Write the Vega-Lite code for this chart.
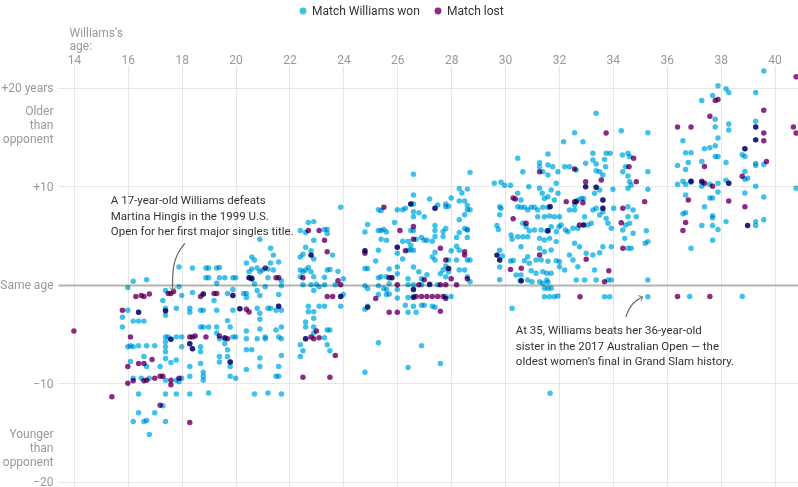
{
"$schema":"https://vega.github.io/schema/vega-lite/v6.json",
"width":740,"height":422,
"autosize":{"type":"none"},
"padding":{"left":58,"top":65,"right":0,"bottom":0},
"config":{"view":{"stroke":null},"font":"Roboto"},
"encoding":{
 "x":{"field":"age","type":"quantitative","scale":{"domain":[13.41,40.87],"nice":false,"zero":false},
  "axis":{"orient":"top","values":[14,16,18,20,22,24,26,28,30,32,34,36,38,40],"domain":false,"ticks":false,"labelColor":"#999","labelFontSize":12,"labelPadding":-1,"gridColor":"#e6e6e6","title":["Williams's","age:"],"titleColor":"#999","titleFontWeight":"normal","titleFontSize":12,"titleAnchor":"start","titleAlign":"left","titleX":11,"titleY":-33,"titleBaseline":"middle","titleLineHeight":13}},
 "y":{"field":"diff","type":"quantitative","scale":{"domain":[-20.54,22.3],"nice":false,"zero":false},
  "axis":{"orient":"left","values":[20,17.7,10,0,-10,-15.06,-20],"domain":false,"ticks":false,"labelColor":"#999","labelFontSize":12,"labelPadding":5,"labelOverlap":false,"labelBound":false,"labelFlush":false,"labelLineHeight":14,"labelBaseline":"middle","title":null,
   "labelExpr":"datum.value==20?'+20 years':datum.value==10?'+10':datum.value==0?'Same age':datum.value==-10?'−10':datum.value==-20?'−20':datum.value>0?['Older','than','opponent']:['Younger','than','opponent']",
   "gridColor":{"condition":{"test":"datum.value===0","value":"#b3b3b3"},"value":"#e6e6e6"},
   "gridOpacity":{"condition":{"test":"abs(datum.value)>15 && abs(datum.value)<18","value":0},"value":1},
   "gridWidth":{"condition":{"test":"datum.value===0","value":2},"value":1}}}
},
"layer":[
{"data":{"values":[
{"age":14.0,"diff":-4.7,"result":"lost"},{"age":15.41,"diff":-11.37,"result":"lost"},
{"age":15.8,"diff":-3.3,"result":"won"},{"age":15.8,"diff":-4.3,"result":"won"},{"age":16.0,"diff":-0.3,"result":"won"},{"age":16.2,"diff":0.35,"result":"won"},{"age":16.0,"diff":-2.6,"result":"won"},{"age":16.0,"diff":-6.3,"result":"won"},{"age":16.1,"diff":-6.2,"result":"won"},{"age":16.2,"diff":-6.3,"result":"won"},{"age":16.1,"diff":-7.8,"result":"won"},{"age":16.2,"diff":-9.5,"result":"won"},{"age":16.4,"diff":-2.8,"result":"won"},{"age":16.2,"diff":-3.7,"result":"won"},{"age":16.4,"diff":-3.7,"result":"won"},{"age":16.6,"diff":-3.7,"result":"won"},{"age":16.7,"diff":0.5,"result":"won"},{"age":16.4,"diff":-6.2,"result":"won"},{"age":16.7,"diff":-6.2,"result":"won"},{"age":17.0,"diff":-6.2,"result":"won"},{"age":16.6,"diff":-7.3,"result":"won"},{"age":16.7,"diff":-8.3,"result":"won"},{"age":16.5,"diff":-9.5,"result":"won"},{"age":16.8,"diff":-9.5,"result":"won"},{"age":16.4,"diff":-11.1,"result":"won"},{"age":16.4,"diff":-13.0,"result":"won"},{"age":16.2,"diff":-13.9,"result":"won"},{"age":16.6,"diff":-13.9,"result":"won"},{"age":16.7,"diff":-13.8,"result":"won"},{"age":16.8,"diff":-15.2,"result":"won"},{"age":17.0,"diff":-13.0,"result":"won"},{"age":17.3,"diff":-12.3,"result":"won"},{"age":17.2,"diff":-8.3,"result":"won"},{"age":17.4,"diff":-11.1,"result":"won"},{"age":17.4,"diff":-13.9,"result":"won"},
{"age":15.8,"diff":-2.6,"result":"lost"},{"age":16.1,"diff":-5.3,"result":"lost"},{"age":16.0,"diff":-8.3,"result":"lost"},{"age":16.0,"diff":-10.0,"result":"lost"},{"age":16.2,"diff":-9.75,"result":"lost"},{"age":16.3,"diff":-1.2,"result":"lost"},{"age":16.5,"diff":-1.1,"result":"lost"},{"age":16.6,"diff":-1.2,"result":"lost"},{"age":16.8,"diff":-0.95,"result":"lost"},{"age":16.4,"diff":-8.0,"result":"lost"},{"age":16.6,"diff":-8.0,"result":"lost"},{"age":16.9,"diff":-7.6,"result":"lost"},{"age":16.6,"diff":-9.75,"result":"lost"},{"age":16.7,"diff":-9.7,"result":"lost"},{"age":17.0,"diff":-9.5,"result":"lost"},{"age":17.2,"diff":-12.25,"result":"lost"},{"age":17.2,"diff":-9.3,"result":"lost"},{"age":16.4,"diff":-2.8,"result":"lost"},
{"age":17.3,"diff":-1.6,"result":"won"},{"age":17.4,"diff":-0.6,"result":"won"},{"age":17.4,"diff":-2.4,"result":"won"},{"age":17.4,"diff":-3.1,"result":"won"},{"age":17.4,"diff":-5.3,"result":"won"},{"age":17.4,"diff":-5.8,"result":"won"},{"age":17.4,"diff":-6.3,"result":"won"},{"age":17.4,"diff":-6.8,"result":"won"},{"age":17.4,"diff":-7.5,"result":"won"},{"age":17.5,"diff":-5.3,"result":"won"},{"age":17.8,"diff":-5.3,"result":"won"},{"age":17.6,"diff":-7.9,"result":"won"},{"age":17.8,"diff":-7.65,"result":"won"},{"age":17.4,"diff":-9.7,"result":"won"},{"age":17.8,"diff":-9.7,"result":"won"},{"age":17.9,"diff":-9.85,"result":"won"},{"age":17.8,"diff":-11.1,"result":"won"},{"age":17.8,"diff":-2.4,"result":"won"},{"age":17.9,"diff":1.8,"result":"won"},{"age":17.9,"diff":-0.2,"result":"won"},{"age":18.0,"diff":-1.1,"result":"won"},{"age":18.0,"diff":-5.3,"result":"won"},{"age":18.0,"diff":-6.3,"result":"won"},{"age":18.0,"diff":-9.5,"result":"won"},{"age":17.6,"diff":-5.55,"result":"won"},{"age":17.4,"diff":-2.64,"result":"won"},
{"age":17.5,"diff":-0.9,"result":"lost"},{"age":17.6,"diff":-0.9,"result":"lost"},{"age":17.7,"diff":-0.7,"result":"lost"},{"age":17.3,"diff":-9.3,"result":"lost"},{"age":17.6,"diff":-9.7,"result":"lost"},{"age":17.6,"diff":-10.15,"result":"lost"},{"age":17.9,"diff":-9.5,"result":"lost"},{"age":17.6,"diff":-5.55,"result":"lost"},{"age":17.4,"diff":-2.64,"result":"lost"},
{"age":18.3,"diff":-2.4,"result":"won"},{"age":18.3,"diff":-2.8,"result":"won"},{"age":18.4,"diff":1.7,"result":"won"},{"age":18.4,"diff":-0.8,"result":"won"},{"age":18.3,"diff":-8.3,"result":"won"},{"age":18.3,"diff":-9.3,"result":"won"},{"age":18.3,"diff":-11.1,"result":"won"},{"age":18.7,"diff":-2.6,"result":"won"},{"age":18.8,"diff":-2.6,"result":"won"},{"age":18.7,"diff":-4.3,"result":"won"},{"age":18.8,"diff":-4.3,"result":"won"},{"age":18.7,"diff":-6.3,"result":"won"},{"age":18.7,"diff":-6.8,"result":"won"},{"age":18.7,"diff":-8.0,"result":"won"},{"age":18.8,"diff":-8.9,"result":"won"},{"age":18.8,"diff":-9.3,"result":"won"},{"age":18.8,"diff":-9.7,"result":"won"},{"age":18.9,"diff":1.7,"result":"won"},{"age":19.0,"diff":1.7,"result":"won"},{"age":18.9,"diff":0.7,"result":"won"},{"age":19.0,"diff":0.7,"result":"won"},{"age":19.0,"diff":-4.3,"result":"won"},{"age":19.0,"diff":-11.0,"result":"won"},{"age":18.3,"diff":-6.0,"result":"won"},{"age":18.4,"diff":-6.5,"result":"won"},{"age":18.8,"diff":-0.95,"result":"won"},
{"age":18.3,"diff":-5.3,"result":"lost"},{"age":18.4,"diff":-5.3,"result":"lost"},{"age":18.5,"diff":-5.2,"result":"lost"},{"age":18.3,"diff":-14.0,"result":"lost"},{"age":18.7,"diff":-1.2,"result":"lost"},{"age":18.9,"diff":-5.3,"result":"lost"},{"age":18.3,"diff":-6.0,"result":"lost"},{"age":18.4,"diff":-6.5,"result":"lost"},{"age":18.8,"diff":-0.95,"result":"lost"},
{"age":19.2,"diff":-1.6,"result":"won"},{"age":19.3,"diff":-4.3,"result":"won"},{"age":19.3,"diff":-4.9,"result":"won"},{"age":19.4,"diff":-5.5,"result":"won"},{"age":19.3,"diff":1.7,"result":"won"},{"age":19.4,"diff":1.75,"result":"won"},{"age":19.4,"diff":0.7,"result":"won"},{"age":19.3,"diff":0.14,"result":"won"},{"age":19.4,"diff":-7.3,"result":"won"},{"age":19.4,"diff":-7.85,"result":"won"},{"age":19.6,"diff":0.7,"result":"won"},{"age":19.7,"diff":-0.9,"result":"won"},{"age":19.6,"diff":-5.5,"result":"won"},{"age":19.7,"diff":-3.65,"result":"won"},{"age":19.8,"diff":-4.3,"result":"won"},{"age":19.7,"diff":-6.6,"result":"won"},{"age":19.8,"diff":-8.3,"result":"won"},{"age":19.7,"diff":-7.3,"result":"won"},{"age":19.8,"diff":-9.3,"result":"won"},{"age":20.0,"diff":-9.5,"result":"won"},{"age":19.9,"diff":0.7,"result":"won"},{"age":20.0,"diff":0.7,"result":"won"},{"age":19.9,"diff":-0.5,"result":"won"},{"age":19.9,"diff":-2.6,"result":"won"},{"age":19.9,"diff":-5.3,"result":"won"},{"age":20.0,"diff":-5.3,"result":"won"},{"age":19.9,"diff":-1.1,"result":"won"},{"age":19.8,"diff":-7.85,"result":"won"},{"age":19.6,"diff":-6.0,"result":"won"},{"age":19.3,"diff":-2.6,"result":"won"},
{"age":19.2,"diff":-0.9,"result":"lost"},{"age":19.3,"diff":-0.9,"result":"lost"},{"age":19.4,"diff":-5.2,"result":"lost"},{"age":19.7,"diff":-5.5,"result":"lost"},{"age":19.9,"diff":-1.1,"result":"lost"},{"age":19.8,"diff":-7.85,"result":"lost"},{"age":19.6,"diff":-5.4,"result":"lost"},
{"age":20.3,"diff":-0.9,"result":"won"},{"age":20.4,"diff":-0.9,"result":"won"},{"age":20.4,"diff":-1.3,"result":"won"},{"age":20.4,"diff":2.2,"result":"won"},{"age":20.4,"diff":-4.7,"result":"won"},{"age":20.4,"diff":-5.5,"result":"won"},{"age":20.4,"diff":-6.6,"result":"won"},{"age":20.4,"diff":-8.6,"result":"won"},{"age":20.6,"diff":2.8,"result":"won"},{"age":20.7,"diff":2.5,"result":"won"},{"age":20.6,"diff":0.7,"result":"won"},{"age":20.7,"diff":0.1,"result":"won"},{"age":20.6,"diff":-6.6,"result":"won"},{"age":20.7,"diff":-11.1,"result":"won"},{"age":20.8,"diff":1.7,"result":"won"},{"age":20.9,"diff":1.3,"result":"won"},{"age":20.8,"diff":-0.6,"result":"won"},{"age":20.9,"diff":-1.1,"result":"won"},{"age":20.8,"diff":-2.4,"result":"won"},{"age":20.9,"diff":-2.9,"result":"won"},{"age":20.9,"diff":-3.5,"result":"won"},{"age":20.8,"diff":-5.5,"result":"won"},{"age":20.9,"diff":-4.5,"result":"won"},{"age":20.9,"diff":-7.45,"result":"won"},{"age":20.9,"diff":-8.3,"result":"won"},{"age":21.1,"diff":-5.3,"result":"won"},{"age":21.1,"diff":-5.5,"result":"won"},{"age":21.2,"diff":0.7,"result":"won"},{"age":21.1,"diff":-0.2,"result":"won"},{"age":21.2,"diff":-11.0,"result":"won"},{"age":21.2,"diff":-2.4,"result":"won"},{"age":21.3,"diff":-2.4,"result":"won"},{"age":21.3,"diff":2.2,"result":"won"},{"age":21.4,"diff":3.0,"result":"won"},{"age":21.3,"diff":3.7,"result":"won"},{"age":21.5,"diff":-2.6,"result":"won"},{"age":21.5,"diff":-4.6,"result":"won"},{"age":21.6,"diff":-5.3,"result":"won"},{"age":21.6,"diff":-1.0,"result":"won"},{"age":21.6,"diff":-9.3,"result":"won"},{"age":21.5,"diff":-9.3,"result":"won"},{"age":21.6,"diff":-8.3,"result":"won"},{"age":21.7,"diff":-7.2,"result":"won"},{"age":21.7,"diff":-11.1,"result":"won"},{"age":21.7,"diff":-5.5,"result":"won"},{"age":21.7,"diff":0.4,"result":"won"},{"age":21.7,"diff":-0.1,"result":"won"},{"age":20.9,"diff":4.6,"result":"won"},{"age":21.6,"diff":2.3,"result":"won"},{"age":21.4,"diff":1.5,"result":"won"},{"age":20.6,"diff":1.6,"result":"won"},{"age":20.16,"diff":-2.44,"result":"won"},{"age":20.5,"diff":0.7,"result":"won"},{"age":20.6,"diff":0.6,"result":"won"},{"age":21.6,"diff":-2.2,"result":"won"},{"age":20.5,"diff":1.3,"result":"won"},{"age":21.0,"diff":1.5,"result":"won"},{"age":21.2,"diff":1.6,"result":"won"},{"age":21.7,"diff":-2.6,"result":"won"},{"age":21.7,"diff":-4.3,"result":"won"},
{"age":20.5,"diff":-2.77,"result":"lost"},{"age":21.1,"diff":1.69,"result":"lost"},{"age":21.5,"diff":0.7,"result":"lost"},{"age":21.6,"diff":0.7,"result":"lost"},{"age":20.16,"diff":-2.44,"result":"lost"},{"age":20.5,"diff":0.7,"result":"lost"},{"age":20.6,"diff":0.6,"result":"lost"},{"age":21.6,"diff":-2.2,"result":"lost"},{"age":20.4,"diff":-2.5,"result":"lost"},
{"age":22.4,"diff":5.5,"result":"won"},{"age":22.6,"diff":5.3,"result":"won"},{"age":22.7,"diff":6.3,"result":"won"},{"age":22.9,"diff":6.4,"result":"won"},{"age":22.9,"diff":4.5,"result":"won"},{"age":22.6,"diff":3.8,"result":"won"},{"age":22.8,"diff":3.45,"result":"won"},{"age":22.5,"diff":3.1,"result":"won"},{"age":22.9,"diff":2.6,"result":"won"},{"age":22.4,"diff":1.5,"result":"won"},{"age":22.5,"diff":1.3,"result":"won"},{"age":22.6,"diff":1.5,"result":"won"},{"age":22.7,"diff":1.75,"result":"won"},{"age":22.8,"diff":1.3,"result":"won"},{"age":22.9,"diff":0.8,"result":"won"},{"age":22.4,"diff":0.8,"result":"won"},{"age":22.5,"diff":0.0,"result":"won"},{"age":22.8,"diff":0.0,"result":"won"},{"age":23.0,"diff":0.05,"result":"won"},{"age":23.1,"diff":-0.2,"result":"won"},{"age":23.3,"diff":0.0,"result":"won"},{"age":23.3,"diff":0.75,"result":"won"},{"age":23.4,"diff":1.5,"result":"won"},{"age":23.5,"diff":1.55,"result":"won"},{"age":23.3,"diff":5.6,"result":"won"},{"age":23.4,"diff":5.6,"result":"won"},{"age":23.4,"diff":5.2,"result":"won"},{"age":23.7,"diff":0.0,"result":"won"},{"age":23.8,"diff":1.35,"result":"won"},{"age":23.6,"diff":3.0,"result":"won"},{"age":23.9,"diff":7.85,"result":"won"},{"age":23.9,"diff":-2.2,"result":"won"},{"age":23.1,"diff":-2.2,"result":"won"},{"age":23.3,"diff":-2.2,"result":"won"},{"age":22.7,"diff":-2.2,"result":"won"},{"age":22.7,"diff":-2.75,"result":"won"},{"age":22.9,"diff":-2.75,"result":"won"},{"age":22.9,"diff":-3.4,"result":"won"},{"age":22.6,"diff":-3.8,"result":"won"},{"age":22.6,"diff":-4.3,"result":"won"},{"age":22.9,"diff":-4.3,"result":"won"},{"age":22.9,"diff":-4.9,"result":"won"},{"age":23.4,"diff":-4.6,"result":"won"},{"age":23.5,"diff":-4.6,"result":"won"},{"age":22.4,"diff":-6.1,"result":"won"},{"age":22.5,"diff":-6.7,"result":"won"},{"age":22.4,"diff":-7.3,"result":"won"},{"age":23.3,"diff":-5.4,"result":"won"},{"age":23.4,"diff":-6.1,"result":"won"},{"age":23.5,"diff":-6.7,"result":"won"},{"age":22.8,"diff":3.0,"result":"won"},{"age":23.9,"diff":-1.2,"result":"won"},{"age":22.6,"diff":-5.5,"result":"won"},{"age":22.9,"diff":-0.6,"result":"won"},{"age":24.0,"diff":-1.0,"result":"won"},{"age":24.0,"diff":0.6,"result":"won"},{"age":22.4,"diff":2.8,"result":"won"},
{"age":22.7,"diff":5.5,"result":"lost"},{"age":23.1,"diff":5.5,"result":"lost"},{"age":23.3,"diff":4.5,"result":"lost"},{"age":23.4,"diff":3.35,"result":"lost"},{"age":22.5,"diff":0.7,"result":"lost"},{"age":23.8,"diff":0.4,"result":"lost"},{"age":23.9,"diff":0.0,"result":"lost"},{"age":23.4,"diff":-1.2,"result":"lost"},{"age":23.6,"diff":-1.2,"result":"lost"},{"age":23.0,"diff":-4.7,"result":"lost"},{"age":22.8,"diff":-5.3,"result":"lost"},{"age":22.9,"diff":-5.5,"result":"lost"},{"age":23.1,"diff":-5.4,"result":"lost"},{"age":23.7,"diff":-7.2,"result":"lost"},{"age":22.5,"diff":-9.4,"result":"lost"},{"age":23.5,"diff":-9.4,"result":"lost"},{"age":22.8,"diff":3.0,"result":"lost"},{"age":23.9,"diff":-1.2,"result":"lost"},{"age":22.6,"diff":-5.5,"result":"lost"},
{"age":24.9,"diff":6.1,"result":"won"},{"age":24.8,"diff":5.35,"result":"won"},{"age":25.3,"diff":7.6,"result":"won"},{"age":25.4,"diff":7.5,"result":"won"},{"age":25.3,"diff":5.5,"result":"won"},{"age":25.4,"diff":5.5,"result":"won"},{"age":25.5,"diff":5.6,"result":"won"},{"age":25.6,"diff":5.35,"result":"won"},{"age":25.4,"diff":4.6,"result":"won"},{"age":25.6,"diff":4.5,"result":"won"},{"age":25.9,"diff":6.3,"result":"won"},{"age":25.3,"diff":3.5,"result":"won"},{"age":24.8,"diff":1.65,"result":"won"},{"age":24.9,"diff":1.65,"result":"won"},{"age":25.2,"diff":2.4,"result":"won"},{"age":25.3,"diff":0.7,"result":"won"},{"age":25.4,"diff":0.8,"result":"won"},{"age":25.7,"diff":1.6,"result":"won"},{"age":25.6,"diff":0.8,"result":"won"},{"age":24.8,"diff":-0.1,"result":"won"},{"age":24.9,"diff":-0.4,"result":"won"},{"age":25.3,"diff":-0.1,"result":"won"},{"age":25.7,"diff":0.1,"result":"won"},{"age":24.8,"diff":-2.5,"result":"won"},{"age":24.9,"diff":-2.2,"result":"won"},{"age":25.6,"diff":-0.5,"result":"won"},{"age":25.7,"diff":-0.95,"result":"won"},{"age":25.3,"diff":-5.9,"result":"won"},{"age":24.8,"diff":-8.9,"result":"won"},{"age":25.8,"diff":0.7,"result":"won"},{"age":24.8,"diff":3.45,"result":"won"},{"age":25.5,"diff":-0.4,"result":"won"},{"age":25.3,"diff":-1.0,"result":"won"},
{"age":25.5,"diff":7.85,"result":"lost"},{"age":24.8,"diff":3.2,"result":"lost"},{"age":25.7,"diff":0.7,"result":"lost"},{"age":25.8,"diff":0.7,"result":"lost"},{"age":25.2,"diff":-1.4,"result":"lost"},{"age":24.9,"diff":-2.3,"result":"lost"},{"age":25.7,"diff":-2.8,"result":"lost"},{"age":24.8,"diff":3.45,"result":"lost"},
{"age":26.0,"diff":7.6,"result":"won"},{"age":26.2,"diff":7.6,"result":"won"},{"age":26.3,"diff":7.75,"result":"won"},{"age":26.0,"diff":3.2,"result":"won"},{"age":26.0,"diff":1.8,"result":"won"},{"age":26.0,"diff":1.1,"result":"won"},{"age":26.0,"diff":-0.5,"result":"won"},{"age":26.0,"diff":-1.35,"result":"won"},{"age":26.2,"diff":4.4,"result":"won"},{"age":26.4,"diff":4.4,"result":"won"},{"age":26.4,"diff":3.5,"result":"won"},{"age":26.5,"diff":3.55,"result":"won"},{"age":26.6,"diff":3.5,"result":"won"},{"age":26.5,"diff":4.0,"result":"won"},{"age":26.5,"diff":8.2,"result":"won"},{"age":26.6,"diff":8.2,"result":"won"},{"age":26.6,"diff":7.4,"result":"won"},{"age":26.6,"diff":6.9,"result":"won"},{"age":26.6,"diff":9.1,"result":"won"},{"age":26.6,"diff":11.2,"result":"won"},{"age":26.5,"diff":5.5,"result":"won"},{"age":26.6,"diff":5.5,"result":"won"},{"age":26.7,"diff":4.6,"result":"won"},{"age":26.9,"diff":4.8,"result":"won"},{"age":27.0,"diff":4.5,"result":"won"},{"age":27.1,"diff":4.5,"result":"won"},{"age":27.4,"diff":6.0,"result":"won"},{"age":27.4,"diff":5.5,"result":"won"},{"age":27.4,"diff":4.9,"result":"won"},{"age":27.3,"diff":4.4,"result":"won"},{"age":27.2,"diff":8.7,"result":"won"},{"age":27.3,"diff":2.8,"result":"won"},{"age":27.4,"diff":3.3,"result":"won"},{"age":27.4,"diff":2.5,"result":"won"},{"age":26.6,"diff":1.8,"result":"won"},{"age":26.8,"diff":1.3,"result":"won"},{"age":26.9,"diff":0.6,"result":"won"},{"age":26.4,"diff":0.6,"result":"won"},{"age":26.4,"diff":0.0,"result":"won"},{"age":26.6,"diff":0.0,"result":"won"},{"age":26.4,"diff":-1.3,"result":"won"},{"age":26.6,"diff":-1.2,"result":"won"},{"age":26.6,"diff":-2.2,"result":"won"},{"age":26.9,"diff":-2.1,"result":"won"},{"age":27.2,"diff":0.0,"result":"won"},{"age":27.3,"diff":-2.2,"result":"won"},{"age":27.5,"diff":0.0,"result":"won"},{"age":27.6,"diff":1.1,"result":"won"},{"age":27.7,"diff":1.5,"result":"won"},{"age":27.8,"diff":1.9,"result":"won"},{"age":27.9,"diff":1.3,"result":"won"},{"age":27.8,"diff":0.8,"result":"won"},{"age":27.9,"diff":2.5,"result":"won"},{"age":28.0,"diff":3.45,"result":"won"},{"age":27.7,"diff":5.4,"result":"won"},{"age":27.7,"diff":4.9,"result":"won"},{"age":27.8,"diff":5.7,"result":"won"},{"age":27.8,"diff":7.9,"result":"won"},{"age":27.8,"diff":8.2,"result":"won"},{"age":27.9,"diff":7.95,"result":"won"},{"age":28.0,"diff":8.8,"result":"won"},{"age":27.8,"diff":-1.2,"result":"won"},{"age":28.0,"diff":-1.2,"result":"won"},{"age":27.6,"diff":-8.0,"result":"won"},{"age":26.9,"diff":-6.2,"result":"won"},{"age":26.4,"diff":-8.4,"result":"won"},{"age":26.0,"diff":3.8,"result":"won"},{"age":27.4,"diff":7.75,"result":"won"},{"age":27.9,"diff":1.65,"result":"won"},{"age":25.6,"diff":-1.0,"result":"won"},{"age":26.6,"diff":-0.5,"result":"won"},{"age":27.0,"diff":-2.1,"result":"won"},{"age":27.4,"diff":-2.3,"result":"won"},{"age":26.4,"diff":-2.8,"result":"won"},{"age":26.7,"diff":-2.8,"result":"won"},{"age":26.2,"diff":2.6,"result":"won"},{"age":26.8,"diff":7.3,"result":"won"},{"age":27.0,"diff":6.9,"result":"won"},{"age":27.5,"diff":8.1,"result":"won"},{"age":26.9,"diff":0.0,"result":"won"},{"age":27.1,"diff":1.0,"result":"won"},{"age":26.3,"diff":-2.1,"result":"won"},
{"age":26.5,"diff":8.2,"result":"lost"},{"age":26.1,"diff":5.5,"result":"lost"},{"age":26.6,"diff":4.6,"result":"lost"},{"age":26.3,"diff":3.45,"result":"lost"},{"age":26.6,"diff":5.9,"result":"lost"},{"age":26.0,"diff":0.0,"result":"lost"},{"age":26.0,"diff":-2.8,"result":"lost"},{"age":26.8,"diff":0.0,"result":"lost"},{"age":27.0,"diff":0.5,"result":"lost"},{"age":26.6,"diff":-0.5,"result":"lost"},{"age":26.6,"diff":-1.3,"result":"lost"},{"age":27.2,"diff":0.05,"result":"lost"},{"age":27.3,"diff":-1.2,"result":"lost"},{"age":27.6,"diff":3.7,"result":"lost"},{"age":27.8,"diff":2.5,"result":"lost"},{"age":27.6,"diff":0.0,"result":"lost"},{"age":27.8,"diff":0.0,"result":"lost"},{"age":28.0,"diff":0.6,"result":"lost"},{"age":28.2,"diff":0.0,"result":"lost"},{"age":27.8,"diff":-1.4,"result":"lost"},{"age":27.6,"diff":-2.7,"result":"lost"},{"age":26.0,"diff":3.8,"result":"lost"},{"age":27.4,"diff":7.75,"result":"lost"},{"age":27.9,"diff":1.65,"result":"lost"},{"age":26.7,"diff":-1.2,"result":"lost"},{"age":26.9,"diff":-1.2,"result":"lost"},{"age":27.1,"diff":-1.2,"result":"lost"},{"age":27.5,"diff":-1.2,"result":"lost"},{"age":27.7,"diff":-1.2,"result":"lost"},
{"age":28.3,"diff":9.75,"result":"won"},{"age":28.4,"diff":9.3,"result":"won"},{"age":28.3,"diff":8.5,"result":"won"},{"age":28.5,"diff":8.5,"result":"won"},{"age":28.6,"diff":8.05,"result":"won"},{"age":28.6,"diff":7.6,"result":"won"},{"age":28.5,"diff":7.1,"result":"won"},{"age":28.3,"diff":6.6,"result":"won"},{"age":28.5,"diff":5.7,"result":"won"},{"age":28.6,"diff":5.55,"result":"won"},{"age":28.3,"diff":5.3,"result":"won"},{"age":28.2,"diff":4.8,"result":"won"},{"age":28.2,"diff":3.9,"result":"won"},{"age":28.2,"diff":2.5,"result":"won"},{"age":28.3,"diff":3.5,"result":"won"},{"age":28.6,"diff":2.5,"result":"won"},{"age":28.6,"diff":4.8,"result":"won"},{"age":28.3,"diff":1.5,"result":"won"},{"age":28.5,"diff":1.5,"result":"won"},{"age":28.6,"diff":0.8,"result":"won"},{"age":28.7,"diff":11.4,"result":"won"},{"age":28.6,"diff":9.7,"result":"won"},{"age":28.7,"diff":7.6,"result":"won"},{"age":28.6,"diff":5.6,"result":"won"},{"age":28.7,"diff":2.5,"result":"won"},{"age":28.7,"diff":0.3,"result":"won"},
{"age":28.5,"diff":3.35,"result":"lost"},{"age":28.6,"diff":0.6,"result":"lost"},{"age":28.5,"diff":3.0,"result":"lost"},
{"age":29.6,"diff":10.3,"result":"won"},{"age":29.85,"diff":10.4,"result":"won"},{"age":29.98,"diff":10.1,"result":"won"},{"age":30.2,"diff":10.1,"result":"won"},{"age":29.8,"diff":7.9,"result":"won"},{"age":29.85,"diff":7.75,"result":"won"},{"age":29.8,"diff":7.1,"result":"won"},{"age":29.7,"diff":6.0,"result":"won"},{"age":29.75,"diff":5.6,"result":"won"},{"age":29.8,"diff":3.5,"result":"won"},{"age":29.9,"diff":2.9,"result":"won"},{"age":29.8,"diff":1.8,"result":"won"},{"age":29.8,"diff":0.5,"result":"won"},{"age":30.2,"diff":2.4,"result":"won"},{"age":30.3,"diff":2.45,"result":"won"},{"age":29.7,"diff":3.0,"result":"won"},{"age":29.8,"diff":2.5,"result":"won"},{"age":30.6,"diff":0.4,"result":"won"},
{"age":30.3,"diff":8.8,"result":"lost"},{"age":30.3,"diff":6.7,"result":"lost"},{"age":30.2,"diff":1.55,"result":"lost"},{"age":30.6,"diff":1.66,"result":"lost"},{"age":29.7,"diff":3.0,"result":"lost"},{"age":29.8,"diff":2.5,"result":"lost"},{"age":30.6,"diff":0.4,"result":"lost"},
{"age":30.47,"diff":12.83,"result":"won"},{"age":30.66,"diff":11.47,"result":"won"},{"age":30.88,"diff":9.95,"result":"won"},{"age":30.47,"diff":9.27,"result":"won"},{"age":30.59,"diff":8.6,"result":"won"},{"age":30.47,"diff":7.92,"result":"won"},{"age":30.59,"diff":7.85,"result":"won"},{"age":30.22,"diff":5.04,"result":"won"},{"age":30.26,"diff":4.6,"result":"won"},{"age":30.47,"diff":4.87,"result":"won"},{"age":30.66,"diff":4.87,"result":"won"},{"age":30.84,"diff":4.87,"result":"won"},{"age":30.59,"diff":3.86,"result":"won"},{"age":30.84,"diff":2.84,"result":"won"},{"age":30.72,"diff":2.44,"result":"won"},{"age":30.9,"diff":2.17,"result":"won"},{"age":30.41,"diff":0.98,"result":"won"},{"age":30.59,"diff":0.98,"result":"won"},{"age":30.84,"diff":0.47,"result":"won"},{"age":31.0,"diff":0.3,"result":"won"},{"age":31.28,"diff":12.39,"result":"won"},{"age":31.28,"diff":11.97,"result":"won"},{"age":31.4,"diff":11.47,"result":"won"},{"age":31.59,"diff":12.15,"result":"won"},{"age":31.59,"diff":11.13,"result":"won"},{"age":31.77,"diff":11.97,"result":"won"},{"age":31.96,"diff":11.47,"result":"won"},{"age":31.59,"diff":13.27,"result":"won"},{"age":31.28,"diff":9.78,"result":"won"},{"age":31.38,"diff":9.27,"result":"won"},{"age":31.46,"diff":8.76,"result":"won"},{"age":31.59,"diff":8.93,"result":"won"},{"age":31.71,"diff":9.61,"result":"won"},{"age":31.9,"diff":10.29,"result":"won"},{"age":31.96,"diff":9.27,"result":"won"},{"age":31.83,"diff":8.6,"result":"won"},{"age":31.59,"diff":7.85,"result":"won"},{"age":31.4,"diff":7.85,"result":"won"},{"age":31.21,"diff":7.58,"result":"won"},{"age":31.09,"diff":7.85,"result":"won"},{"age":30.97,"diff":7.85,"result":"won"},{"age":30.84,"diff":7.58,"result":"won"},{"age":30.72,"diff":7.85,"result":"won"},{"age":31.21,"diff":6.9,"result":"won"},{"age":31.46,"diff":6.9,"result":"won"},{"age":31.65,"diff":6.97,"result":"won"},{"age":31.83,"diff":6.9,"result":"won"},{"age":32.02,"diff":6.9,"result":"won"},{"age":30.66,"diff":6.23,"result":"won"},{"age":30.78,"diff":5.89,"result":"won"},{"age":30.9,"diff":5.48,"result":"won"},{"age":31.09,"diff":5.55,"result":"won"},{"age":31.34,"diff":5.55,"result":"won"},{"age":31.55,"diff":5.45,"result":"won"},{"age":31.71,"diff":5.89,"result":"won"},{"age":32.0,"diff":5.89,"result":"won"},{"age":31.9,"diff":5.38,"result":"won"},{"age":31.28,"diff":4.7,"result":"won"},{"age":31.46,"diff":4.53,"result":"won"},{"age":31.65,"diff":4.7,"result":"won"},{"age":31.9,"diff":4.37,"result":"won"},{"age":31.28,"diff":3.69,"result":"won"},{"age":31.46,"diff":3.35,"result":"won"},{"age":31.71,"diff":3.52,"result":"won"},{"age":31.15,"diff":2.5,"result":"won"},{"age":31.34,"diff":2.5,"result":"won"},{"age":31.59,"diff":2.37,"result":"won"},{"age":31.9,"diff":2.44,"result":"won"},{"age":32.02,"diff":2.34,"result":"won"},{"age":31.4,"diff":1.32,"result":"won"},{"age":31.55,"diff":1.15,"result":"won"},{"age":31.71,"diff":1.15,"result":"won"},{"age":31.15,"diff":1.15,"result":"won"},{"age":30.97,"diff":1.42,"result":"won"},{"age":31.55,"diff":0.47,"result":"won"},{"age":31.59,"diff":0.24,"result":"won"},{"age":31.28,"diff":0.3,"result":"won"},{"age":31.4,"diff":0.14,"result":"won"},{"age":31.46,"diff":-0.37,"result":"won"},{"age":31.59,"diff":-0.37,"result":"won"},{"age":31.71,"diff":-0.37,"result":"won"},{"age":31.46,"diff":-1.22,"result":"won"},{"age":31.65,"diff":-1.22,"result":"won"},{"age":31.83,"diff":-1.22,"result":"won"},{"age":31.96,"diff":-1.15,"result":"won"},{"age":30.26,"diff":-2.4,"result":"won"},{"age":31.67,"diff":-11.03,"result":"won"},{"age":31.67,"diff":7.92,"result":"won"},{"age":30.56,"diff":0.41,"result":"won"},{"age":31.59,"diff":5.48,"result":"won"},
{"age":30.38,"diff":8.7,"result":"lost"},{"age":31.28,"diff":11.47,"result":"lost"},{"age":30.78,"diff":6.23,"result":"lost"},{"age":31.28,"diff":3.01,"result":"lost"},{"age":31.67,"diff":7.92,"result":"lost"},{"age":31.59,"diff":5.48,"result":"lost"},{"age":32.27,"diff":8.43,"result":"lost"},{"age":32.58,"diff":8.43,"result":"lost"},
{"age":32.17,"diff":14.52,"result":"won"},{"age":32.58,"diff":15.43,"result":"won"},{"age":32.89,"diff":14.52,"result":"won"},{"age":33.38,"diff":17.4,"result":"won"},{"age":32.21,"diff":11.97,"result":"won"},{"age":32.39,"diff":11.97,"result":"won"},{"age":32.64,"diff":11.64,"result":"won"},{"age":32.99,"diff":12.32,"result":"won"},{"age":33.26,"diff":13.33,"result":"won"},{"age":33.26,"diff":12.66,"result":"won"},{"age":33.38,"diff":12.25,"result":"won"},{"age":33.38,"diff":11.57,"result":"won"},{"age":33.51,"diff":11.47,"result":"won"},{"age":33.69,"diff":12.72,"result":"won"},{"age":33.73,"diff":11.97,"result":"won"},{"age":33.75,"diff":13.33,"result":"won"},{"age":33.9,"diff":13.33,"result":"won"},{"age":33.63,"diff":11.13,"result":"won"},{"age":33.51,"diff":9.61,"result":"won"},{"age":33.32,"diff":9.27,"result":"won"},{"age":32.91,"diff":8.76,"result":"won"},{"age":32.83,"diff":8.76,"result":"won"},{"age":32.7,"diff":8.6,"result":"won"},{"age":32.58,"diff":8.09,"result":"won"},{"age":32.58,"diff":7.58,"result":"won"},{"age":32.39,"diff":7.58,"result":"won"},{"age":32.95,"diff":6.9,"result":"won"},{"age":33.07,"diff":6.06,"result":"won"},{"age":33.2,"diff":6.23,"result":"won"},{"age":33.38,"diff":7.75,"result":"won"},{"age":33.26,"diff":7.58,"result":"won"},{"age":33.51,"diff":7.07,"result":"won"},{"age":33.63,"diff":7.41,"result":"won"},{"age":33.75,"diff":6.73,"result":"won"},{"age":33.82,"diff":6.23,"result":"won"},{"age":33.94,"diff":5.72,"result":"won"},{"age":32.08,"diff":6.06,"result":"won"},{"age":32.24,"diff":5.55,"result":"won"},{"age":32.33,"diff":5.38,"result":"won"},{"age":32.52,"diff":5.72,"result":"won"},{"age":32.7,"diff":5.72,"result":"won"},{"age":32.58,"diff":4.2,"result":"won"},{"age":32.76,"diff":3.86,"result":"won"},{"age":33.01,"diff":3.18,"result":"won"},{"age":33.26,"diff":3.01,"result":"won"},{"age":33.51,"diff":3.25,"result":"won"},{"age":33.63,"diff":3.86,"result":"won"},{"age":33.94,"diff":3.86,"result":"won"},{"age":32.39,"diff":3.01,"result":"won"},{"age":32.52,"diff":2.5,"result":"won"},{"age":32.02,"diff":1.83,"result":"won"},{"age":32.21,"diff":1.49,"result":"won"},{"age":32.7,"diff":1.83,"result":"won"},{"age":32.64,"diff":0.47,"result":"won"},{"age":32.95,"diff":0.47,"result":"won"},{"age":33.32,"diff":1.49,"result":"won"},{"age":33.38,"diff":0.47,"result":"won"},{"age":33.82,"diff":0.47,"result":"won"},{"age":33.94,"diff":0.47,"result":"won"},{"age":33.69,"diff":-1.22,"result":"won"},{"age":33.88,"diff":-1.22,"result":"won"},{"age":34.03,"diff":7.75,"result":"won"},{"age":34.0,"diff":9.68,"result":"won"},{"age":32.99,"diff":9.95,"result":"won"},{"age":33.38,"diff":9.88,"result":"won"},{"age":33.63,"diff":8.6,"result":"won"},{"age":32.91,"diff":6.06,"result":"won"},{"age":33.63,"diff":7.75,"result":"won"},
{"age":32.58,"diff":11.75,"result":"lost"},{"age":33.75,"diff":15.4,"result":"lost"},{"age":32.99,"diff":10.46,"result":"lost"},{"age":33.57,"diff":10.63,"result":"lost"},{"age":32.64,"diff":8.43,"result":"lost"},{"age":32.89,"diff":8.32,"result":"lost"},{"age":32.76,"diff":6.06,"result":"lost"},{"age":33.01,"diff":2.57,"result":"lost"},{"age":33.85,"diff":1.42,"result":"lost"},{"age":33.69,"diff":0.3,"result":"lost"},{"age":32.78,"diff":-1.22,"result":"lost"},{"age":32.99,"diff":9.95,"result":"lost"},{"age":33.38,"diff":9.88,"result":"lost"},{"age":33.63,"diff":8.6,"result":"lost"},{"age":32.91,"diff":6.06,"result":"lost"},{"age":33.63,"diff":7.75,"result":"lost"},
{"age":34.31,"diff":15.63,"result":"won"},{"age":34.35,"diff":13.16,"result":"won"},{"age":34.56,"diff":13.33,"result":"won"},{"age":34.62,"diff":13.0,"result":"won"},{"age":34.47,"diff":11.97,"result":"won"},{"age":34.37,"diff":11.47,"result":"won"},{"age":34.56,"diff":11.03,"result":"won"},{"age":34.62,"diff":10.46,"result":"won"},{"age":34.68,"diff":10.12,"result":"won"},{"age":34.56,"diff":9.78,"result":"won"},{"age":34.56,"diff":7.92,"result":"won"},{"age":34.75,"diff":7.58,"result":"won"},{"age":34.56,"diff":6.9,"result":"won"},{"age":34.87,"diff":6.9,"result":"won"},{"age":34.47,"diff":6.06,"result":"won"},{"age":34.62,"diff":6.23,"result":"won"},{"age":34.37,"diff":5.55,"result":"won"},{"age":34.75,"diff":5.21,"result":"won"},{"age":34.44,"diff":4.7,"result":"won"},{"age":34.56,"diff":3.69,"result":"won"},{"age":34.68,"diff":3.69,"result":"won"},{"age":35.3,"diff":15.43,"result":"won"},{"age":35.3,"diff":11.47,"result":"won"},{"age":35.3,"diff":9.68,"result":"won"},{"age":35.24,"diff":5.48,"result":"won"},{"age":35.3,"diff":4.37,"result":"won"},{"age":35.3,"diff":0.47,"result":"won"},{"age":35.3,"diff":-1.22,"result":"won"},{"age":35.2,"diff":4.2,"result":"won"},
{"age":34.77,"diff":12.83,"result":"lost"},{"age":34.6,"diff":11.97,"result":"lost"},{"age":34.87,"diff":10.46,"result":"lost"},{"age":35.18,"diff":8.43,"result":"lost"},{"age":34.37,"diff":7.75,"result":"lost"},{"age":34.31,"diff":6.29,"result":"lost"},{"age":34.37,"diff":3.69,"result":"lost"},
{"age":36.4,"diff":12.1,"result":"won"},{"age":36.6,"diff":14.6,"result":"won"},{"age":36.7,"diff":13.4,"result":"won"},{"age":36.9,"diff":13.4,"result":"won"},{"age":36.8,"diff":12.4,"result":"won"},{"age":36.7,"diff":11.7,"result":"won"},{"age":36.4,"diff":10.2,"result":"won"},{"age":36.6,"diff":10.5,"result":"won"},{"age":36.7,"diff":10.2,"result":"won"},{"age":36.9,"diff":10.4,"result":"won"},{"age":36.7,"diff":9.1,"result":"won"},{"age":36.6,"diff":7.2,"result":"won"},{"age":36.7,"diff":7.3,"result":"won"},{"age":36.9,"diff":3.7,"result":"won"},{"age":37.3,"diff":18.7,"result":"won"},{"age":37.3,"diff":12.5,"result":"won"},{"age":37.4,"diff":13.8,"result":"won"},{"age":37.6,"diff":13.9,"result":"won"},{"age":37.8,"diff":14.1,"result":"won"},{"age":37.7,"diff":19.2,"result":"won"},{"age":37.8,"diff":16.8,"result":"won"},{"age":37.8,"diff":16.0,"result":"won"},{"age":37.9,"diff":14.9,"result":"won"},{"age":37.8,"diff":13.0,"result":"won"},{"age":37.9,"diff":13.0,"result":"won"},{"age":37.3,"diff":10.4,"result":"won"},{"age":37.6,"diff":10.2,"result":"won"},{"age":37.3,"diff":10.0,"result":"won"},{"age":37.9,"diff":10.3,"result":"won"},{"age":37.9,"diff":9.4,"result":"won"},{"age":37.6,"diff":8.8,"result":"won"},{"age":37.7,"diff":8.8,"result":"won"},{"age":37.4,"diff":7.9,"result":"won"},{"age":37.7,"diff":7.0,"result":"won"},{"age":37.7,"diff":6.8,"result":"won"},{"age":37.3,"diff":6.0,"result":"won"},{"age":37.7,"diff":6.0,"result":"won"},{"age":37.9,"diff":5.6,"result":"won"},{"age":37.7,"diff":4.5,"result":"won"},{"age":38.2,"diff":6.4,"result":"won"},{"age":37.9,"diff":20.2,"result":"won"},{"age":38.2,"diff":19.9,"result":"won"},{"age":38.3,"diff":19.5,"result":"won"},{"age":38.3,"diff":16.3,"result":"won"},{"age":38.3,"diff":15.7,"result":"won"},{"age":38.2,"diff":12.4,"result":"won"},{"age":38.2,"diff":10.6,"result":"won"},{"age":38.3,"diff":10.3,"result":"won"},{"age":36.85,"diff":-1.2,"result":"won"},{"age":38.8,"diff":-1.2,"result":"won"},{"age":36.9,"diff":10.5,"result":"won"},
{"age":36.4,"diff":16.0,"result":"lost"},{"age":36.9,"diff":16.0,"result":"lost"},{"age":36.8,"diff":8.6,"result":"lost"},{"age":36.7,"diff":6.3,"result":"lost"},{"age":36.6,"diff":5.5,"result":"lost"},{"age":37.4,"diff":12.0,"result":"lost"},{"age":37.3,"diff":10.5,"result":"lost"},{"age":37.4,"diff":10.3,"result":"lost"},{"age":37.7,"diff":10.0,"result":"lost"},{"age":37.6,"diff":17.1,"result":"lost"},{"age":37.8,"diff":18.7,"result":"lost"},{"age":37.9,"diff":18.8,"result":"lost"},{"age":38.3,"diff":10.3,"result":"lost"},{"age":38.3,"diff":8.5,"result":"lost"},{"age":36.4,"diff":-1.2,"result":"lost"},{"age":37.6,"diff":-1.2,"result":"lost"},{"age":36.9,"diff":10.5,"result":"lost"},
{"age":39.3,"diff":19.5,"result":"won"},{"age":39.6,"diff":21.7,"result":"won"},{"age":39.3,"diff":16.6,"result":"won"},{"age":39.3,"diff":16.0,"result":"won"},{"age":39.3,"diff":14.7,"result":"won"},{"age":38.8,"diff":13.2,"result":"won"},{"age":38.9,"diff":13.0,"result":"won"},{"age":39.3,"diff":12.3,"result":"won"},{"age":39.3,"diff":12.1,"result":"won"},{"age":39.6,"diff":12.2,"result":"won"},{"age":38.9,"diff":11.5,"result":"won"},{"age":39.0,"diff":10.8,"result":"won"},{"age":38.9,"diff":10.7,"result":"won"},{"age":39.3,"diff":10.0,"result":"won"},{"age":38.9,"diff":9.3,"result":"won"},{"age":39.6,"diff":8.9,"result":"won"},{"age":39.3,"diff":6.4,"result":"won"},{"age":39.3,"diff":6.0,"result":"won"},{"age":39.6,"diff":6.6,"result":"won"},{"age":38.9,"diff":13.8,"result":"won"},{"age":39.0,"diff":6.0,"result":"won"},
{"age":39.6,"diff":17.7,"result":"lost"},{"age":39.3,"diff":16.0,"result":"lost"},{"age":39.6,"diff":15.4,"result":"lost"},{"age":39.6,"diff":14.6,"result":"lost"},{"age":38.8,"diff":11.0,"result":"lost"},{"age":38.9,"diff":7.9,"result":"lost"},{"age":39.0,"diff":6.0,"result":"lost"},{"age":39.7,"diff":12.5,"result":"lost"},{"age":38.9,"diff":13.8,"result":"lost"},{"age":39.3,"diff":14.7,"result":"lost"},
{"age":40.8,"diff":21.1,"result":"lost"},{"age":40.7,"diff":16.0,"result":"lost"},{"age":40.8,"diff":15.4,"result":"lost"},{"age":40.8,"diff":9.8,"result":"won"}
]},
 "mark":{"type":"point","filled":true,"size":30,"opacity":1,"blend":"multiply"},
 "encoding":{"color":{"field":"result","type":"nominal","scale":{"domain":["won","lost"],"range":["#3fc1e9","#8c2b83"]},
  "legend":{"orient":"none","direction":"horizontal","legendX":239,"legendY":-60,"title":null,"symbolType":"circle","symbolSize":48,"symbolOpacity":1,"labelFontSize":12,"labelColor":"#333","columnPadding":12,"padding":0,"labelOffset":3,"labelExpr":"datum.label=='won'?'Match Williams won':'Match lost'"}}}
},
{"data":{"values":[
 {"age":15.37,"diff":8.2,"text":["A 17-year-old Williams defeats","Martina Hingis in the 1999 U.S.","Open for her first major singles title."]},
 {"age":30.4,"diff":-5.0,"text":["At 35, Williams beats her 36-year-old","sister in the 2017 Australian Open — the","oldest women’s final in Grand Slam history."]}
]},
 "mark":{"type":"text","align":"left","baseline":"alphabetic","fontSize":11.5,"lineHeight":15.7,"color":"#333"},
 "encoding":{"text":{"field":"text"}}
},
{"data":{"values":[
 {"arrow":1,"step":1,"age":18.12,"diff":4.2},{"arrow":1,"step":2,"age":17.83,"diff":3.19},{"arrow":1,"step":3,"age":17.68,"diff":1.83},{"arrow":1,"step":4,"age":17.66,"diff":0.48},{"arrow":1,"step":5,"age":17.66,"diff":-0.6},
 {"arrow":2,"step":1,"age":34.48,"diff":-3.25},{"arrow":2,"step":2,"age":34.63,"diff":-2.23},{"arrow":2,"step":3,"age":34.88,"diff":-1.55},{"arrow":2,"step":4,"age":35.1,"diff":-1.25}
]},
 "mark":{"type":"line","interpolate":"basis","color":"#666","strokeWidth":1.2},
 "encoding":{"detail":{"field":"arrow","type":"nominal"},"order":{"field":"step","type":"quantitative"}}
},
{"data":{"values":[{"age":17.66,"diff":-0.6}]},
 "mark":{"type":"point","shape":"M-1,-1L0,0L1,-1","size":40,"filled":false,"stroke":"#666","strokeWidth":1.2,"angle":0}
},
{"data":{"values":[{"age":35.1,"diff":-1.25}]},
 "mark":{"type":"point","shape":"M-1,-1L0,0L1,-1","size":40,"filled":false,"stroke":"#666","strokeWidth":1.2,"angle":243}
}
]
}
